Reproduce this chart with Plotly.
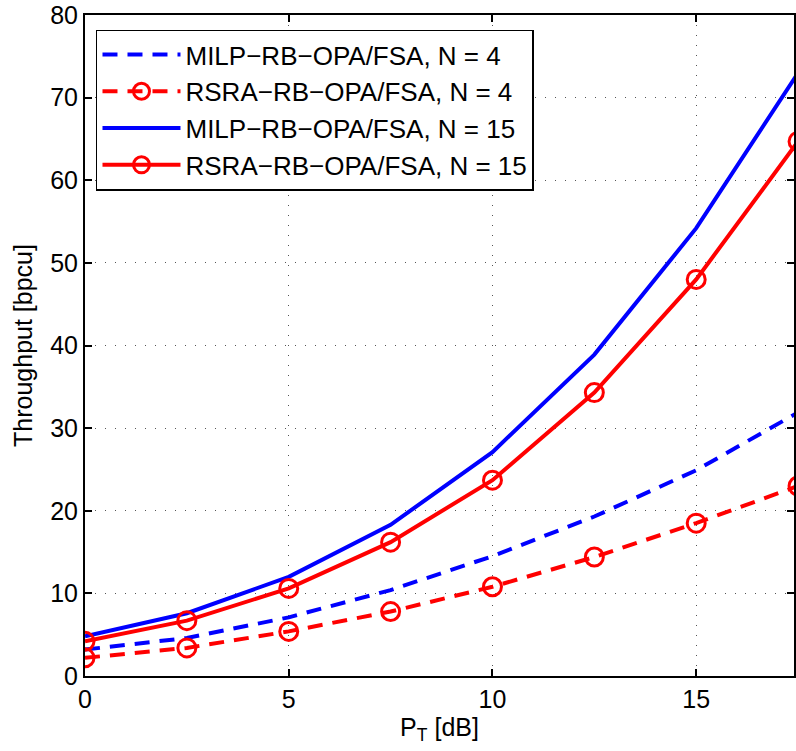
import plotly.graph_objects as go

# Transmit power P_T [dB]
pt_db = [0, 2.5, 5, 7.5, 10, 12.5, 15, 17.5]

# Throughput [bpcu] per scheme
milp_n4 = [3.2, 4.6, 7.1, 10.4, 14.5, 19.3, 24.9, 31.9]
rsra_n4 = [2.2, 3.4, 5.4, 7.8, 10.8, 14.4, 18.5, 23.0]
milp_n15 = [4.8, 7.6, 12.0, 18.3, 27.1, 38.9, 54.2, 73.0]
rsra_n15 = [4.2, 6.7, 10.6, 16.2, 23.7, 34.3, 48.0, 64.7]

names = [
    "MILP\u2212RB\u2212OPA/FSA, N = 4",
    "RSRA\u2212RB\u2212OPA/FSA, N = 4",
    "MILP\u2212RB\u2212OPA/FSA, N = 15",
    "RSRA\u2212RB\u2212OPA/FSA, N = 15",
]

BLUE = "#0000ff"
RED = "#ff0000"
DASH = "15px,10px"

fig = go.Figure()
fig.add_trace(go.Scatter(x=pt_db, y=milp_n4, name=names[0], mode="lines",
                         line=dict(color=BLUE, width=4, dash=DASH)))
fig.add_trace(go.Scatter(x=pt_db, y=rsra_n4, name=names[1], mode="lines+markers",
                         line=dict(color=RED, width=4, dash=DASH),
                         marker=dict(symbol="circle-open", size=18, color=RED,
                                     line=dict(width=3, color=RED))))
fig.add_trace(go.Scatter(x=pt_db, y=milp_n15, name=names[2], mode="lines",
                         line=dict(color=BLUE, width=4)))
fig.add_trace(go.Scatter(x=pt_db, y=rsra_n15, name=names[3], mode="lines+markers",
                         line=dict(color=RED, width=4),
                         marker=dict(symbol="circle-open", size=18, color=RED,
                                     line=dict(width=3, color=RED))))

axis_common = dict(
    showline=True, linecolor="black", linewidth=2, mirror="ticks",
    ticks="inside", ticklen=7, tickwidth=1.5, tickcolor="black",
    showgrid=True, gridcolor="#555", gridwidth=1, griddash="1px,9px",
    zeroline=False, tickfont=dict(size=25, color="black"),
)

fig.update_xaxes(range=[0, 17.4], tickvals=[0, 5, 10, 15],
                 title=dict(text="P<sub>T</sub> [dB]", font=dict(size=25, color="black"),
                            standoff=0),
                 **axis_common)
fig.update_yaxes(range=[0, 80], tickvals=list(range(0, 81, 10)),
                 title=dict(text="Throughput [bpcu]", font=dict(size=25, color="black"),
                            standoff=10),
                 **axis_common)

fig.update_layout(
    width=796, height=751,
    margin=dict(l=85, r=0, t=15, b=75),
    paper_bgcolor="white", plot_bgcolor="white",
    font=dict(family="Liberation Sans, Arial, sans-serif", color="black"),
    legend=dict(x=0.0155, y=0.978, xanchor="left", yanchor="top",
                bgcolor="white", bordercolor="black", borderwidth=1.5,
                font=dict(size=26, color="black"), itemwidth=78,
                tracegroupgap=0),
    showlegend=True,
)

fig.write_html("out.html")
